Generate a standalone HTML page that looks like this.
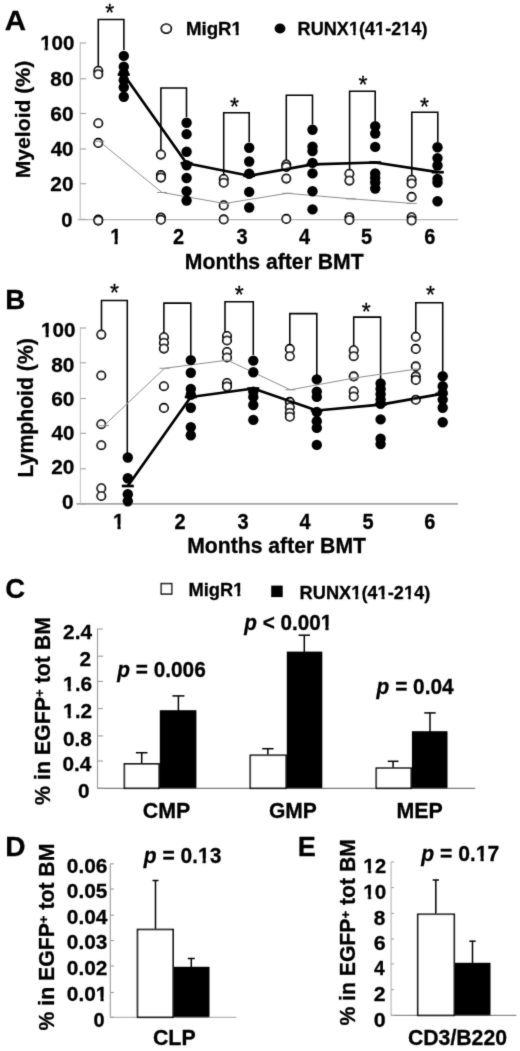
<!DOCTYPE html>
<html><head><meta charset="utf-8"><title>Figure</title>
<style>
html,body{margin:0;padding:0;background:#fff;}
svg{display:block;font-family:"Liberation Sans",sans-serif;fill:#000;}
text{stroke:#000;stroke-width:0.3px;}
</style></head><body>
<svg width="520" height="1051" viewBox="0 0 520 1051">
<defs><filter id="soft" x="0" y="0" width="520" height="1051" filterUnits="userSpaceOnUse"><feConvolveMatrix order="3" kernelMatrix="0.02 0.08 0.02 0.08 0.6 0.08 0.02 0.08 0.02" edgeMode="duplicate"/></filter></defs>
<rect x="0" y="0" width="520" height="1051" fill="#fff"/>
<g filter="url(#soft)">
<g id="panelA">
<line x1="80.2" y1="42.4" x2="80.2" y2="219.6" stroke="#c6c6c6" stroke-width="1.3"/>
<line x1="77.7" y1="219.6" x2="458" y2="219.6" stroke="#b4b4b4" stroke-width="1.2"/>
<line x1="80.2" y1="43.0" x2="86.2" y2="43.0" stroke="#a0a0a0" stroke-width="1.1"/>
<text x="40.17" y="50.1" font-size="20.9" font-weight="bold" textLength="34.33" lengthAdjust="spacingAndGlyphs">100</text>
<rect x="39.96" y="46.58" width="4.59" height="5.42" fill="#fff"/>
<rect x="48.13" y="46.58" width="3.97" height="5.42" fill="#fff"/>
<line x1="80.2" y1="78.8" x2="86.2" y2="78.8" stroke="#a0a0a0" stroke-width="1.1"/>
<text x="50.37" y="85.9" font-size="20.9" font-weight="bold" textLength="23.2" lengthAdjust="spacingAndGlyphs">80</text>
<line x1="80.2" y1="113.5" x2="86.2" y2="113.5" stroke="#a0a0a0" stroke-width="1.1"/>
<text x="50.27" y="120.6" font-size="20.9" font-weight="bold" textLength="23.32" lengthAdjust="spacingAndGlyphs">60</text>
<line x1="80.2" y1="149.0" x2="86.2" y2="149.0" stroke="#a0a0a0" stroke-width="1.1"/>
<text x="50.69" y="156.1" font-size="20.9" font-weight="bold" textLength="22.88" lengthAdjust="spacingAndGlyphs">40</text>
<line x1="80.2" y1="183.7" x2="86.2" y2="183.7" stroke="#a0a0a0" stroke-width="1.1"/>
<text x="50.37" y="190.8" font-size="20.9" font-weight="bold" textLength="23.2" lengthAdjust="spacingAndGlyphs">20</text>
<line x1="80.2" y1="219.4" x2="86.2" y2="219.4" stroke="#a0a0a0" stroke-width="1.1"/>
<text x="61.29" y="226.5" font-size="20.9" font-weight="bold" textLength="11.24" lengthAdjust="spacingAndGlyphs">0</text>
<text x="4.66" y="29.9" font-size="28" font-weight="bold" textLength="21.29" lengthAdjust="spacingAndGlyphs">A</text>
<text transform="translate(30.4,178.27) rotate(-90)" font-size="21" font-weight="bold" textLength="117.44" lengthAdjust="spacingAndGlyphs">Myeloid (%)</text>
<text x="110.16" y="243.5" font-size="21.7" font-weight="bold" textLength="11.1" lengthAdjust="spacingAndGlyphs">1</text>
<rect x="109.96" y="239.9" width="4.44" height="5.5" fill="#fff"/>
<rect x="117.9" y="239.9" width="3.84" height="5.5" fill="#fff"/>
<text x="173.11" y="243.5" font-size="21.7" font-weight="bold" textLength="11.1" lengthAdjust="spacingAndGlyphs">2</text>
<text x="236.51" y="243.5" font-size="21.7" font-weight="bold" textLength="11.1" lengthAdjust="spacingAndGlyphs">3</text>
<text x="299.01" y="243.5" font-size="21.7" font-weight="bold" textLength="11.1" lengthAdjust="spacingAndGlyphs">4</text>
<text x="361.11" y="243.5" font-size="21.7" font-weight="bold" textLength="11.1" lengthAdjust="spacingAndGlyphs">5</text>
<text x="424.26" y="243.5" font-size="21.7" font-weight="bold" textLength="11.1" lengthAdjust="spacingAndGlyphs">6</text>
<text x="184.82" y="268.8" font-size="22.4" font-weight="bold" textLength="178.86" lengthAdjust="spacingAndGlyphs">Months after BMT</text>
<ellipse cx="166.3" cy="28.6" rx="5.0" ry="4.45" fill="#fff" stroke="#000" stroke-width="1.8"/>
<text x="185.88" y="34.9" font-size="19.0" font-weight="bold" textLength="56.14" lengthAdjust="spacingAndGlyphs">MigR1</text>
<rect x="231.43" y="31.59" width="4.14" height="5.21" fill="#fff"/>
<rect x="238.89" y="31.59" width="3.58" height="5.21" fill="#fff"/>
<ellipse cx="280" cy="28.5" rx="5.4" ry="5.1" fill="#000"/>
<text x="297.62" y="35.2" font-size="19.0" font-weight="bold" textLength="129.88" lengthAdjust="spacingAndGlyphs">RUNX1(41-214)</text>
<rect x="348.77" y="31.89" width="3.99" height="5.21" fill="#fff"/>
<rect x="356.01" y="31.89" width="3.45" height="5.21" fill="#fff"/>
<rect x="374.95" y="31.89" width="3.99" height="5.21" fill="#fff"/>
<rect x="382.19" y="31.89" width="3.45" height="5.21" fill="#fff"/>
<rect x="401.14" y="31.89" width="3.99" height="5.21" fill="#fff"/>
<rect x="408.37" y="31.89" width="3.45" height="5.21" fill="#fff"/>
<polyline points="98.3,67 98.3,19.4 123.9,19.4 123.9,50" fill="none" stroke="#000" stroke-width="1.55"/>
<polyline points="160.9,150.5 160.9,87.9 186.5,87.9 186.5,117" fill="none" stroke="#000" stroke-width="1.55"/>
<polyline points="223.7,175 223.7,112.7 249.2,112.7 249.2,142" fill="none" stroke="#000" stroke-width="1.55"/>
<polyline points="286.3,161 286.3,95.2 312.5,95.2 312.5,124.5" fill="none" stroke="#000" stroke-width="1.55"/>
<polyline points="349.6,170 349.6,91.2 375.2,91.2 375.2,121" fill="none" stroke="#000" stroke-width="1.55"/>
<polyline points="411.8,177 411.8,112.2 437.8,112.2 437.8,142" fill="none" stroke="#000" stroke-width="1.55"/>
<text x="109.8" y="21.4" font-size="23" font-weight="normal" text-anchor="middle" stroke="#000" stroke-width="0.3">*</text>
<text x="234.6" y="114.5" font-size="23" font-weight="normal" text-anchor="middle" stroke="#000" stroke-width="0.3">*</text>
<text x="363" y="92.9" font-size="23" font-weight="normal" text-anchor="middle" stroke="#000" stroke-width="0.3">*</text>
<text x="424.6" y="114.5" font-size="23" font-weight="normal" text-anchor="middle" stroke="#000" stroke-width="0.3">*</text>
<circle cx="98.3" cy="70.8" r="4.15" fill="#fff" stroke="#000" stroke-width="1.8"/>
<circle cx="98.3" cy="74.2" r="4.15" fill="#fff" stroke="#000" stroke-width="1.8"/>
<circle cx="98.3" cy="123.3" r="4.15" fill="#fff" stroke="#000" stroke-width="1.8"/>
<circle cx="98.3" cy="142.9" r="4.15" fill="#fff" stroke="#000" stroke-width="1.8"/>
<circle cx="98.3" cy="219.6" r="4.15" fill="#fff" stroke="#000" stroke-width="1.8"/>
<circle cx="98.3" cy="220.6" r="4.15" fill="#fff" stroke="#000" stroke-width="1.8"/>
<circle cx="160.9" cy="154.6" r="4.15" fill="#fff" stroke="#000" stroke-width="1.8"/>
<circle cx="160.9" cy="175.0" r="4.15" fill="#fff" stroke="#000" stroke-width="1.8"/>
<circle cx="160.9" cy="177.6" r="4.15" fill="#fff" stroke="#000" stroke-width="1.8"/>
<circle cx="160.9" cy="217.6" r="4.15" fill="#fff" stroke="#000" stroke-width="1.8"/>
<circle cx="160.9" cy="219.8" r="4.15" fill="#fff" stroke="#000" stroke-width="1.8"/>
<circle cx="223.7" cy="179" r="4.15" fill="#fff" stroke="#000" stroke-width="1.8"/>
<circle cx="223.7" cy="182.8" r="4.15" fill="#fff" stroke="#000" stroke-width="1.8"/>
<circle cx="223.7" cy="205.4" r="4.15" fill="#fff" stroke="#000" stroke-width="1.8"/>
<circle cx="223.7" cy="219.4" r="4.15" fill="#fff" stroke="#000" stroke-width="1.8"/>
<circle cx="286.3" cy="164.6" r="4.15" fill="#fff" stroke="#000" stroke-width="1.8"/>
<circle cx="286.3" cy="167" r="4.15" fill="#fff" stroke="#000" stroke-width="1.8"/>
<circle cx="286.3" cy="178.6" r="4.15" fill="#fff" stroke="#000" stroke-width="1.8"/>
<circle cx="286.3" cy="218.9" r="4.15" fill="#fff" stroke="#000" stroke-width="1.8"/>
<circle cx="349.4" cy="173.8" r="4.15" fill="#fff" stroke="#000" stroke-width="1.8"/>
<circle cx="349.4" cy="180.6" r="4.15" fill="#fff" stroke="#000" stroke-width="1.8"/>
<circle cx="349.4" cy="217.2" r="4.15" fill="#fff" stroke="#000" stroke-width="1.8"/>
<circle cx="349.4" cy="220" r="4.15" fill="#fff" stroke="#000" stroke-width="1.8"/>
<circle cx="411.6" cy="179.8" r="4.15" fill="#fff" stroke="#000" stroke-width="1.8"/>
<circle cx="411.6" cy="183.5" r="4.15" fill="#fff" stroke="#000" stroke-width="1.8"/>
<circle cx="411.6" cy="196.9" r="4.15" fill="#fff" stroke="#000" stroke-width="1.8"/>
<circle cx="411.6" cy="217.2" r="4.15" fill="#fff" stroke="#000" stroke-width="1.8"/>
<circle cx="411.6" cy="220.4" r="4.15" fill="#fff" stroke="#000" stroke-width="1.8"/>
<polyline points="99.3,141.3 162,192.5 224.7,203.5 287.3,193.3 350.6,198.8 411.8,203.4" fill="none" stroke="#8c8c8c" stroke-width="1.0" stroke-linejoin="round"/>
<line x1="94.3" y1="141.3" x2="104.3" y2="141.3" stroke="#8c8c8c" stroke-width="1.0"/>
<line x1="157" y1="192.5" x2="167" y2="192.5" stroke="#8c8c8c" stroke-width="1.0"/>
<line x1="219.7" y1="203.5" x2="229.7" y2="203.5" stroke="#8c8c8c" stroke-width="1.0"/>
<line x1="282.3" y1="193.3" x2="292.3" y2="193.3" stroke="#8c8c8c" stroke-width="1.0"/>
<line x1="345.6" y1="198.8" x2="355.6" y2="198.8" stroke="#8c8c8c" stroke-width="1.0"/>
<line x1="406.8" y1="203.4" x2="416.8" y2="203.4" stroke="#8c8c8c" stroke-width="1.0"/>
<circle cx="123.8" cy="55.9" r="5.2" fill="#000"/>
<circle cx="123.8" cy="66.7" r="5.2" fill="#000"/>
<circle cx="123.8" cy="73.2" r="5.2" fill="#000"/>
<circle cx="123.8" cy="80.2" r="5.2" fill="#000"/>
<circle cx="123.8" cy="87.2" r="5.2" fill="#000"/>
<circle cx="123.8" cy="96.8" r="5.2" fill="#000"/>
<circle cx="186.6" cy="122.7" r="5.2" fill="#000"/>
<circle cx="186.6" cy="134.1" r="5.2" fill="#000"/>
<circle cx="186.6" cy="151.7" r="5.2" fill="#000"/>
<circle cx="186.6" cy="165.3" r="5.2" fill="#000"/>
<circle cx="186.6" cy="178.0" r="5.2" fill="#000"/>
<circle cx="186.6" cy="191.3" r="5.2" fill="#000"/>
<circle cx="186.6" cy="200.5" r="5.2" fill="#000"/>
<circle cx="249.2" cy="147.7" r="5.2" fill="#000"/>
<circle cx="249.2" cy="161.5" r="5.2" fill="#000"/>
<circle cx="249.2" cy="173.7" r="5.2" fill="#000"/>
<circle cx="249.2" cy="191.9" r="5.2" fill="#000"/>
<circle cx="249.2" cy="207.5" r="5.2" fill="#000"/>
<circle cx="312.5" cy="129.7" r="5.2" fill="#000"/>
<circle cx="312.5" cy="146.7" r="5.2" fill="#000"/>
<circle cx="312.5" cy="151.1" r="5.2" fill="#000"/>
<circle cx="312.5" cy="162.9" r="5.2" fill="#000"/>
<circle cx="312.5" cy="173.4" r="5.2" fill="#000"/>
<circle cx="312.5" cy="191.3" r="5.2" fill="#000"/>
<circle cx="312.5" cy="209.4" r="5.2" fill="#000"/>
<circle cx="375.2" cy="126.3" r="5.2" fill="#000"/>
<circle cx="375.2" cy="133.6" r="5.2" fill="#000"/>
<circle cx="375.2" cy="146.9" r="5.2" fill="#000"/>
<circle cx="375.2" cy="173.5" r="5.2" fill="#000"/>
<circle cx="375.2" cy="177.9" r="5.2" fill="#000"/>
<circle cx="375.2" cy="182.5" r="5.2" fill="#000"/>
<circle cx="375.2" cy="188.5" r="5.2" fill="#000"/>
<circle cx="437.5" cy="147.2" r="5.2" fill="#000"/>
<circle cx="437.5" cy="158.1" r="5.2" fill="#000"/>
<circle cx="437.5" cy="165.5" r="5.2" fill="#000"/>
<circle cx="437.5" cy="179.0" r="5.2" fill="#000"/>
<circle cx="437.5" cy="182.6" r="5.2" fill="#000"/>
<circle cx="437.5" cy="201.2" r="5.2" fill="#000"/>
<polyline points="123.7,74.5 186.5,163.2 249.2,175.8 312.5,164.3 375.2,162.5 437.8,172.2" fill="none" stroke="#000" stroke-width="2.7" stroke-linejoin="round"/>
<line x1="117.7" y1="74.5" x2="129.7" y2="74.5" stroke="#000" stroke-width="2.7"/>
<line x1="180.5" y1="163.2" x2="192.5" y2="163.2" stroke="#000" stroke-width="2.7"/>
<line x1="243.2" y1="175.8" x2="255.2" y2="175.8" stroke="#000" stroke-width="2.7"/>
<line x1="306.5" y1="164.3" x2="318.5" y2="164.3" stroke="#000" stroke-width="2.7"/>
<line x1="369.2" y1="162.5" x2="381.2" y2="162.5" stroke="#000" stroke-width="2.7"/>
<line x1="431.8" y1="172.2" x2="443.8" y2="172.2" stroke="#000" stroke-width="2.7"/>
</g>
<g id="panelB">
<line x1="80.4" y1="327" x2="80.4" y2="503.9" stroke="#c8c8c8" stroke-width="1.2"/>
<line x1="76.4" y1="503.9" x2="458" y2="503.9" stroke="#a4a4a4" stroke-width="1.6"/>
<line x1="80.4" y1="328.0" x2="86.0" y2="328.0" stroke="#a0a0a0" stroke-width="1.1"/>
<text x="41.06" y="337.3" font-size="20.9" font-weight="bold" textLength="34.43" lengthAdjust="spacingAndGlyphs">100</text>
<rect x="40.85" y="333.78" width="4.6" height="5.42" fill="#fff"/>
<rect x="49.04" y="333.78" width="3.98" height="5.42" fill="#fff"/>
<line x1="80.4" y1="362.8" x2="86.0" y2="362.8" stroke="#a0a0a0" stroke-width="1.1"/>
<text x="51.27" y="371.9" font-size="20.9" font-weight="bold" textLength="23.2" lengthAdjust="spacingAndGlyphs">80</text>
<line x1="80.4" y1="398.5" x2="86.0" y2="398.5" stroke="#a0a0a0" stroke-width="1.1"/>
<text x="51.17" y="406.0" font-size="20.9" font-weight="bold" textLength="23.32" lengthAdjust="spacingAndGlyphs">60</text>
<line x1="80.4" y1="433.3" x2="86.0" y2="433.3" stroke="#a0a0a0" stroke-width="1.1"/>
<text x="51.59" y="439.9" font-size="20.9" font-weight="bold" textLength="22.88" lengthAdjust="spacingAndGlyphs">40</text>
<line x1="80.4" y1="468.8" x2="86.0" y2="468.8" stroke="#a0a0a0" stroke-width="1.1"/>
<text x="51.27" y="473.8" font-size="20.9" font-weight="bold" textLength="23.2" lengthAdjust="spacingAndGlyphs">20</text>
<line x1="80.4" y1="503.9" x2="86.0" y2="503.9" stroke="#a0a0a0" stroke-width="1.1"/>
<text x="61.97" y="508.5" font-size="20.9" font-weight="bold" textLength="11.58" lengthAdjust="spacingAndGlyphs">0</text>
<text x="5.19" y="308.6" font-size="28" font-weight="bold" textLength="20.08" lengthAdjust="spacingAndGlyphs">B</text>
<text transform="translate(32.5,477.58) rotate(-90)" font-size="21.5" font-weight="bold" textLength="139.4" lengthAdjust="spacingAndGlyphs">Lymphoid (%)</text>
<text x="113.06" y="528.5" font-size="21.7" font-weight="bold" textLength="11.1" lengthAdjust="spacingAndGlyphs">1</text>
<rect x="112.86" y="524.9" width="4.44" height="5.5" fill="#fff"/>
<rect x="120.8" y="524.9" width="3.84" height="5.5" fill="#fff"/>
<text x="174.61" y="528.5" font-size="21.7" font-weight="bold" textLength="11.1" lengthAdjust="spacingAndGlyphs">2</text>
<text x="237.61" y="528.5" font-size="21.7" font-weight="bold" textLength="11.1" lengthAdjust="spacingAndGlyphs">3</text>
<text x="299.61" y="528.5" font-size="21.7" font-weight="bold" textLength="11.1" lengthAdjust="spacingAndGlyphs">4</text>
<text x="362.61" y="528.5" font-size="21.7" font-weight="bold" textLength="11.1" lengthAdjust="spacingAndGlyphs">5</text>
<text x="424.26" y="528.5" font-size="21.7" font-weight="bold" textLength="11.1" lengthAdjust="spacingAndGlyphs">6</text>
<text x="187.22" y="553.0" font-size="22.4" font-weight="bold" textLength="178.76" lengthAdjust="spacingAndGlyphs">Months after BMT</text>
<polyline points="101.5,330 101.5,300.4 127.3,300.4 127.3,454" fill="none" stroke="#000" stroke-width="1.55"/>
<polyline points="163.9,333.5 163.9,303.1 190.8,303.1 190.8,355" fill="none" stroke="#000" stroke-width="1.55"/>
<polyline points="225,332 225,301.8 253.3,301.8 253.3,355" fill="none" stroke="#000" stroke-width="1.55"/>
<polyline points="289.8,344.5 289.8,313.6 316.8,313.6 316.8,375" fill="none" stroke="#000" stroke-width="1.55"/>
<polyline points="353.7,346.5 353.7,317.1 380.6,317.1 380.6,379" fill="none" stroke="#000" stroke-width="1.55"/>
<polyline points="415.8,332.5 415.8,302.8 442.7,302.8 442.7,371" fill="none" stroke="#000" stroke-width="1.55"/>
<text x="114.4" y="300.9" font-size="23" font-weight="normal" text-anchor="middle" stroke="#000" stroke-width="0.3">*</text>
<text x="239.3" y="302.7" font-size="23" font-weight="normal" text-anchor="middle" stroke="#000" stroke-width="0.3">*</text>
<text x="366.3" y="319.7" font-size="23" font-weight="normal" text-anchor="middle" stroke="#000" stroke-width="0.3">*</text>
<text x="430.6" y="302.7" font-size="23" font-weight="normal" text-anchor="middle" stroke="#000" stroke-width="0.3">*</text>
<circle cx="101.3" cy="334.6" r="4.15" fill="#fff" stroke="#000" stroke-width="1.8"/>
<circle cx="101.3" cy="375.5" r="4.15" fill="#fff" stroke="#000" stroke-width="1.8"/>
<circle cx="101.3" cy="424.2" r="4.15" fill="#fff" stroke="#000" stroke-width="1.8"/>
<circle cx="101.3" cy="445.2" r="4.15" fill="#fff" stroke="#000" stroke-width="1.8"/>
<circle cx="101.3" cy="488.3" r="4.15" fill="#fff" stroke="#000" stroke-width="1.8"/>
<circle cx="101.3" cy="496.0" r="4.15" fill="#fff" stroke="#000" stroke-width="1.8"/>
<circle cx="163.9" cy="337.3" r="4.15" fill="#fff" stroke="#000" stroke-width="1.8"/>
<circle cx="163.9" cy="342.7" r="4.15" fill="#fff" stroke="#000" stroke-width="1.8"/>
<circle cx="163.9" cy="348.6" r="4.15" fill="#fff" stroke="#000" stroke-width="1.8"/>
<circle cx="163.9" cy="386.3" r="4.15" fill="#fff" stroke="#000" stroke-width="1.8"/>
<circle cx="163.9" cy="407.9" r="4.15" fill="#fff" stroke="#000" stroke-width="1.8"/>
<circle cx="227.0" cy="336" r="4.15" fill="#fff" stroke="#000" stroke-width="1.8"/>
<circle cx="227.0" cy="340.5" r="4.15" fill="#fff" stroke="#000" stroke-width="1.8"/>
<circle cx="227.0" cy="352.1" r="4.15" fill="#fff" stroke="#000" stroke-width="1.8"/>
<circle cx="227.0" cy="357.5" r="4.15" fill="#fff" stroke="#000" stroke-width="1.8"/>
<circle cx="227.0" cy="383.1" r="4.15" fill="#fff" stroke="#000" stroke-width="1.8"/>
<circle cx="227.0" cy="386.6" r="4.15" fill="#fff" stroke="#000" stroke-width="1.8"/>
<circle cx="289.8" cy="348.9" r="4.15" fill="#fff" stroke="#000" stroke-width="1.8"/>
<circle cx="289.8" cy="356.2" r="4.15" fill="#fff" stroke="#000" stroke-width="1.8"/>
<circle cx="289.8" cy="401.9" r="4.15" fill="#fff" stroke="#000" stroke-width="1.8"/>
<circle cx="289.8" cy="407.3" r="4.15" fill="#fff" stroke="#000" stroke-width="1.8"/>
<circle cx="289.8" cy="412.7" r="4.15" fill="#fff" stroke="#000" stroke-width="1.8"/>
<circle cx="289.8" cy="416.7" r="4.15" fill="#fff" stroke="#000" stroke-width="1.8"/>
<circle cx="353.7" cy="350.2" r="4.15" fill="#fff" stroke="#000" stroke-width="1.8"/>
<circle cx="353.7" cy="356.2" r="4.15" fill="#fff" stroke="#000" stroke-width="1.8"/>
<circle cx="353.7" cy="376.4" r="4.15" fill="#fff" stroke="#000" stroke-width="1.8"/>
<circle cx="353.7" cy="391.2" r="4.15" fill="#fff" stroke="#000" stroke-width="1.8"/>
<circle cx="353.7" cy="396.5" r="4.15" fill="#fff" stroke="#000" stroke-width="1.8"/>
<circle cx="415.8" cy="336.8" r="4.15" fill="#fff" stroke="#000" stroke-width="1.8"/>
<circle cx="415.8" cy="348.9" r="4.15" fill="#fff" stroke="#000" stroke-width="1.8"/>
<circle cx="415.8" cy="366.4" r="4.15" fill="#fff" stroke="#000" stroke-width="1.8"/>
<circle cx="415.8" cy="376.4" r="4.15" fill="#fff" stroke="#000" stroke-width="1.8"/>
<circle cx="415.8" cy="379.9" r="4.15" fill="#fff" stroke="#000" stroke-width="1.8"/>
<circle cx="415.8" cy="399.8" r="4.15" fill="#fff" stroke="#000" stroke-width="1.8"/>
<polyline points="104,425.6 164.5,368.3 227.4,360.2 290.4,389.8 354.2,378 416.3,369.1" fill="none" stroke="#8c8c8c" stroke-width="1.0" stroke-linejoin="round"/>
<line x1="99" y1="425.6" x2="109" y2="425.6" stroke="#8c8c8c" stroke-width="1.0"/>
<line x1="159.5" y1="368.3" x2="169.5" y2="368.3" stroke="#8c8c8c" stroke-width="1.0"/>
<line x1="222.4" y1="360.2" x2="232.4" y2="360.2" stroke="#8c8c8c" stroke-width="1.0"/>
<line x1="285.4" y1="389.8" x2="295.4" y2="389.8" stroke="#8c8c8c" stroke-width="1.0"/>
<line x1="349.2" y1="378" x2="359.2" y2="378" stroke="#8c8c8c" stroke-width="1.0"/>
<line x1="411.3" y1="369.1" x2="421.3" y2="369.1" stroke="#8c8c8c" stroke-width="1.0"/>
<circle cx="127.8" cy="457.5" r="5.2" fill="#000"/>
<circle cx="127.8" cy="478.2" r="5.2" fill="#000"/>
<circle cx="127.8" cy="494.2" r="5.2" fill="#000"/>
<circle cx="127.8" cy="501.2" r="5.2" fill="#000"/>
<circle cx="190.8" cy="360.1" r="5.2" fill="#000"/>
<circle cx="190.8" cy="372.7" r="5.2" fill="#000"/>
<circle cx="190.8" cy="388.9" r="5.2" fill="#000"/>
<circle cx="190.8" cy="394.8" r="5.2" fill="#000"/>
<circle cx="190.8" cy="407.7" r="5.2" fill="#000"/>
<circle cx="190.8" cy="427.1" r="5.2" fill="#000"/>
<circle cx="190.8" cy="435.2" r="5.2" fill="#000"/>
<circle cx="253.3" cy="360.6" r="5.2" fill="#000"/>
<circle cx="253.3" cy="372.2" r="5.2" fill="#000"/>
<circle cx="253.3" cy="391.6" r="5.2" fill="#000"/>
<circle cx="253.3" cy="396.9" r="5.2" fill="#000"/>
<circle cx="253.3" cy="405.0" r="5.2" fill="#000"/>
<circle cx="253.3" cy="419.9" r="5.2" fill="#000"/>
<circle cx="316.8" cy="379.4" r="5.2" fill="#000"/>
<circle cx="316.8" cy="391.6" r="5.2" fill="#000"/>
<circle cx="316.8" cy="396.9" r="5.2" fill="#000"/>
<circle cx="316.8" cy="412.0" r="5.2" fill="#000"/>
<circle cx="316.8" cy="421.2" r="5.2" fill="#000"/>
<circle cx="316.8" cy="427.9" r="5.2" fill="#000"/>
<circle cx="316.8" cy="444.9" r="5.2" fill="#000"/>
<circle cx="380.6" cy="383.5" r="5.2" fill="#000"/>
<circle cx="380.6" cy="388.9" r="5.2" fill="#000"/>
<circle cx="380.6" cy="394.3" r="5.2" fill="#000"/>
<circle cx="380.6" cy="399.6" r="5.2" fill="#000"/>
<circle cx="380.6" cy="403.7" r="5.2" fill="#000"/>
<circle cx="380.6" cy="419.4" r="5.2" fill="#000"/>
<circle cx="380.6" cy="438.7" r="5.2" fill="#000"/>
<circle cx="380.6" cy="444.1" r="5.2" fill="#000"/>
<circle cx="442.7" cy="376.2" r="5.2" fill="#000"/>
<circle cx="442.7" cy="386.2" r="5.2" fill="#000"/>
<circle cx="442.7" cy="392.9" r="5.2" fill="#000"/>
<circle cx="442.7" cy="399.6" r="5.2" fill="#000"/>
<circle cx="442.7" cy="407.7" r="5.2" fill="#000"/>
<circle cx="442.7" cy="422.2" r="5.2" fill="#000"/>
<polyline points="127.8,486 190.8,397 253.3,388.5 316.8,410.5 380.6,404.6 441.5,393.9" fill="none" stroke="#000" stroke-width="2.7" stroke-linejoin="round"/>
<line x1="121.8" y1="486" x2="133.8" y2="486" stroke="#000" stroke-width="2.7"/>
<line x1="184.8" y1="397" x2="196.8" y2="397" stroke="#000" stroke-width="2.7"/>
<line x1="247.3" y1="388.5" x2="259.3" y2="388.5" stroke="#000" stroke-width="2.7"/>
<line x1="310.8" y1="410.5" x2="322.8" y2="410.5" stroke="#000" stroke-width="2.7"/>
<line x1="374.6" y1="404.6" x2="386.6" y2="404.6" stroke="#000" stroke-width="2.7"/>
<line x1="435.5" y1="393.9" x2="447.5" y2="393.9" stroke="#000" stroke-width="2.7"/>
</g>
<g id="panelC">
<line x1="97.5" y1="628.5" x2="97.5" y2="788.3" stroke="#9a9a9a" stroke-width="1.1"/>
<line x1="97.5" y1="788.3" x2="475.2" y2="788.3" stroke="#7c7c7c" stroke-width="1.2"/>
<line x1="97.5" y1="629.0" x2="103.0" y2="629.0" stroke="#9a9a9a" stroke-width="1.1"/>
<text x="63.09" y="638.8" font-size="21" font-weight="bold" textLength="28.92" lengthAdjust="spacingAndGlyphs">2.4</text>
<line x1="97.5" y1="656.2" x2="103.0" y2="656.2" stroke="#9a9a9a" stroke-width="1.1"/>
<text x="79.39" y="666.0" font-size="21" font-weight="bold" textLength="11.57" lengthAdjust="spacingAndGlyphs">2</text>
<line x1="97.5" y1="681.4" x2="103.0" y2="681.4" stroke="#9a9a9a" stroke-width="1.1"/>
<text x="63.11" y="691.2" font-size="21" font-weight="bold" textLength="28.92" lengthAdjust="spacingAndGlyphs">1.6</text>
<rect x="62.9" y="687.67" width="4.64" height="5.43" fill="#fff"/>
<rect x="71.16" y="687.67" width="4.02" height="5.43" fill="#fff"/>
<line x1="97.5" y1="708.6" x2="103.0" y2="708.6" stroke="#9a9a9a" stroke-width="1.1"/>
<text x="63.11" y="718.4" font-size="21" font-weight="bold" textLength="28.92" lengthAdjust="spacingAndGlyphs">1.2</text>
<rect x="62.9" y="714.87" width="4.64" height="5.43" fill="#fff"/>
<rect x="71.16" y="714.87" width="4.02" height="5.43" fill="#fff"/>
<line x1="97.5" y1="735.9" x2="103.0" y2="735.9" stroke="#9a9a9a" stroke-width="1.1"/>
<text x="62.91" y="745.7" font-size="21" font-weight="bold" textLength="28.91" lengthAdjust="spacingAndGlyphs">0.8</text>
<line x1="97.5" y1="761.0" x2="103.0" y2="761.0" stroke="#9a9a9a" stroke-width="1.1"/>
<text x="62.39" y="770.8" font-size="21" font-weight="bold" textLength="28.91" lengthAdjust="spacingAndGlyphs">0.4</text>
<line x1="97.5" y1="788.2" x2="103.0" y2="788.2" stroke="#9a9a9a" stroke-width="1.1"/>
<text x="77.98" y="798.0" font-size="21" font-weight="bold" textLength="11.57" lengthAdjust="spacingAndGlyphs">0</text>
<text x="5.3" y="598.4" font-size="28" font-weight="bold" textLength="19.85" lengthAdjust="spacingAndGlyphs">C</text>
<text transform="translate(49.7,804.93) rotate(-90)" font-size="21.3" font-weight="bold" textLength="187.97" lengthAdjust="spacingAndGlyphs">% in EGFP<tspan font-size="13.21" dy="-5.75">+</tspan><tspan dy="5.75"> tot BM</tspan></text>
<rect x="161.3" y="583.6" width="10.4" height="10.4" fill="#fff" stroke="#000" stroke-width="1.5"/>
<text x="188.51" y="595.7" font-size="18.6" font-weight="bold" textLength="54.94" lengthAdjust="spacingAndGlyphs">MigR1</text>
<rect x="233.08" y="592.43" width="4.04" height="5.17" fill="#fff"/>
<rect x="240.39" y="592.43" width="3.49" height="5.17" fill="#fff"/>
<rect x="271.2" y="585.6" width="11.5" height="11.5" fill="#000"/>
<text x="299.62" y="598.8" font-size="18.6" font-weight="bold" textLength="130.69" lengthAdjust="spacingAndGlyphs">RUNX1(41-214)</text>
<rect x="351.09" y="595.53" width="4.02" height="5.17" fill="#fff"/>
<rect x="358.37" y="595.53" width="3.47" height="5.17" fill="#fff"/>
<rect x="377.43" y="595.53" width="4.02" height="5.17" fill="#fff"/>
<rect x="384.72" y="595.53" width="3.47" height="5.17" fill="#fff"/>
<rect x="403.78" y="595.53" width="4.02" height="5.17" fill="#fff"/>
<rect x="411.06" y="595.53" width="3.47" height="5.17" fill="#fff"/>
<rect x="124.4" y="763.9" width="34.7" height="24.4" fill="#fff" stroke="#000" stroke-width="1.6"/>
<line x1="141.7" y1="752.7" x2="141.7" y2="763.2" stroke="#000" stroke-width="1.5"/>
<line x1="135.9" y1="752.7" x2="147.5" y2="752.7" stroke="#000" stroke-width="1.5"/>
<rect x="159.8" y="710.2" width="36.6" height="78.1" fill="#000"/>
<line x1="178.4" y1="695.9" x2="178.4" y2="711" stroke="#000" stroke-width="1.5"/>
<line x1="172.4" y1="695.9" x2="184.4" y2="695.9" stroke="#000" stroke-width="1.5"/>
<rect x="250.3" y="755.3" width="35.8" height="33.0" fill="#fff" stroke="#000" stroke-width="1.6"/>
<line x1="267.9" y1="748.7" x2="267.9" y2="754.6" stroke="#000" stroke-width="1.5"/>
<line x1="262.2" y1="748.7" x2="273.6" y2="748.7" stroke="#000" stroke-width="1.5"/>
<rect x="286.8" y="651.6" width="35.5" height="136.7" fill="#000"/>
<line x1="304.3" y1="635.2" x2="304.3" y2="652" stroke="#000" stroke-width="1.5"/>
<line x1="298.6" y1="635.2" x2="310.0" y2="635.2" stroke="#000" stroke-width="1.5"/>
<rect x="376.3" y="768.2" width="34.9" height="20.1" fill="#fff" stroke="#000" stroke-width="1.6"/>
<line x1="393.1" y1="761.3" x2="393.1" y2="767.5" stroke="#000" stroke-width="1.5"/>
<line x1="387.7" y1="761.3" x2="398.5" y2="761.3" stroke="#000" stroke-width="1.5"/>
<rect x="411.9" y="731.2" width="35.6" height="57.1" fill="#000"/>
<line x1="430" y1="712.9" x2="430" y2="732" stroke="#000" stroke-width="1.5"/>
<line x1="424.3" y1="712.9" x2="435.7" y2="712.9" stroke="#000" stroke-width="1.5"/>
<text x="117.22" y="677.1" font-size="21.8" font-weight="bold" textLength="88.55" lengthAdjust="spacingAndGlyphs"><tspan font-style="italic">p</tspan> = 0.006</text>
<text x="244.22" y="629.9" font-size="21.8" font-weight="bold" textLength="88.04" lengthAdjust="spacingAndGlyphs"><tspan font-style="italic">p</tspan> &lt; 0.001</text>
<rect x="320.54" y="626.29" width="4.62" height="5.51" fill="#fff"/>
<rect x="328.75" y="626.29" width="4.0" height="5.51" fill="#fff"/>
<text x="376.62" y="694.0" font-size="21.8" font-weight="bold" textLength="77.1" lengthAdjust="spacingAndGlyphs"><tspan font-style="italic">p</tspan> = 0.04</text>
<text x="142.85" y="818.0" font-size="21.7" font-weight="bold" textLength="47.44" lengthAdjust="spacingAndGlyphs">CMP</text>
<text x="268.96" y="818.0" font-size="21.7" font-weight="bold" textLength="47.93" lengthAdjust="spacingAndGlyphs">GMP</text>
<text x="396.51" y="818.0" font-size="21.7" font-weight="bold" textLength="46.38" lengthAdjust="spacingAndGlyphs">MEP</text>
</g>
<g id="panelD">
<line x1="110.3" y1="864" x2="110.3" y2="1017.3" stroke="#9a9a9a" stroke-width="1.1"/>
<line x1="110.3" y1="1017.3" x2="236.3" y2="1017.3" stroke="#b4b4b4" stroke-width="1.2"/>
<line x1="110.3" y1="1017.3" x2="113.89999999999999" y2="1017.3" stroke="#9a9a9a" stroke-width="1.1"/>
<text x="93.4" y="1026.8" font-size="20.9" font-weight="bold" textLength="11.12" lengthAdjust="spacingAndGlyphs">0</text>
<line x1="110.3" y1="992.5" x2="113.89999999999999" y2="992.5" stroke="#9a9a9a" stroke-width="1.1"/>
<text x="66.87" y="1001.2" font-size="20.9" font-weight="bold" textLength="40.59" lengthAdjust="spacingAndGlyphs">0.01</text>
<rect x="95.65" y="997.68" width="4.66" height="5.42" fill="#fff"/>
<rect x="103.93" y="997.68" width="4.03" height="5.42" fill="#fff"/>
<line x1="110.3" y1="966.0" x2="113.89999999999999" y2="966.0" stroke="#9a9a9a" stroke-width="1.1"/>
<text x="66.87" y="974.7" font-size="20.9" font-weight="bold" textLength="40.59" lengthAdjust="spacingAndGlyphs">0.02</text>
<line x1="110.3" y1="940.5" x2="113.89999999999999" y2="940.5" stroke="#9a9a9a" stroke-width="1.1"/>
<text x="66.87" y="949.2" font-size="20.9" font-weight="bold" textLength="40.59" lengthAdjust="spacingAndGlyphs">0.03</text>
<line x1="110.3" y1="915.2" x2="113.89999999999999" y2="915.2" stroke="#9a9a9a" stroke-width="1.1"/>
<text x="66.87" y="923.9" font-size="20.9" font-weight="bold" textLength="40.59" lengthAdjust="spacingAndGlyphs">0.04</text>
<line x1="110.3" y1="889.0" x2="113.89999999999999" y2="889.0" stroke="#9a9a9a" stroke-width="1.1"/>
<text x="66.87" y="897.7" font-size="20.9" font-weight="bold" textLength="40.59" lengthAdjust="spacingAndGlyphs">0.05</text>
<line x1="110.3" y1="863.8" x2="113.89999999999999" y2="863.8" stroke="#9a9a9a" stroke-width="1.1"/>
<text x="66.87" y="872.5" font-size="20.9" font-weight="bold" textLength="40.59" lengthAdjust="spacingAndGlyphs">0.06</text>
<text x="5.18" y="856.1" font-size="28" font-weight="bold" textLength="20.27" lengthAdjust="spacingAndGlyphs">D</text>
<text transform="translate(53.7,1030.42) rotate(-90)" font-size="21.5" font-weight="bold" textLength="186.76" lengthAdjust="spacingAndGlyphs">% in EGFP<tspan font-size="13.33" dy="-5.81">+</tspan><tspan dy="5.81"> tot BM</tspan></text>
<text x="143.72" y="863.0" font-size="21.8" font-weight="bold" textLength="77.63" lengthAdjust="spacingAndGlyphs"><tspan font-style="italic">p</tspan> = 0.13</text>
<rect x="197.78" y="859.39" width="4.69" height="5.51" fill="#fff"/>
<rect x="206.11" y="859.39" width="4.06" height="5.51" fill="#fff"/>
<rect x="137.5" y="929.5" width="35.6" height="87.8" fill="#fff" stroke="#000" stroke-width="1.6"/>
<line x1="155.5" y1="880.5" x2="155.5" y2="928.8" stroke="#000" stroke-width="1.5"/>
<line x1="152.5" y1="880.5" x2="158.5" y2="880.5" stroke="#000" stroke-width="1.5"/>
<rect x="173.8" y="966.8" width="35.7" height="50.5" fill="#000"/>
<line x1="191.3" y1="958.5" x2="191.3" y2="967.5" stroke="#000" stroke-width="1.5"/>
<line x1="187.8" y1="958.5" x2="194.8" y2="958.5" stroke="#000" stroke-width="1.5"/>
<text x="152.95" y="1045.2" font-size="21.7" font-weight="bold" textLength="42.7" lengthAdjust="spacingAndGlyphs">CLP</text>
</g>
<g id="panelE">
<line x1="391.1" y1="862" x2="391.1" y2="1015.4" stroke="#b4b4b4" stroke-width="1.1"/>
<line x1="391.1" y1="1015.4" x2="516.3" y2="1015.4" stroke="#8a8a8a" stroke-width="1.2"/>
<line x1="391.1" y1="1015.5" x2="394.1" y2="1015.5" stroke="#a8a8a8" stroke-width="1.1"/>
<text x="373.65" y="1026.85" font-size="20.5" font-weight="bold" textLength="11.93" lengthAdjust="spacingAndGlyphs">0</text>
<line x1="391.1" y1="989.6" x2="394.1" y2="989.6" stroke="#a8a8a8" stroke-width="1.1"/>
<text x="373.76" y="1000.95" font-size="20.5" font-weight="bold" textLength="11.8" lengthAdjust="spacingAndGlyphs">2</text>
<line x1="391.1" y1="963.9" x2="394.1" y2="963.9" stroke="#a8a8a8" stroke-width="1.1"/>
<text x="374.11" y="975.25" font-size="20.5" font-weight="bold" textLength="10.71" lengthAdjust="spacingAndGlyphs">4</text>
<line x1="391.1" y1="939.0" x2="394.1" y2="939.0" stroke="#a8a8a8" stroke-width="1.1"/>
<text x="373.65" y="950.35" font-size="20.5" font-weight="bold" textLength="11.93" lengthAdjust="spacingAndGlyphs">6</text>
<line x1="391.1" y1="913.4" x2="394.1" y2="913.4" stroke="#a8a8a8" stroke-width="1.1"/>
<text x="373.78" y="924.75" font-size="20.5" font-weight="bold" textLength="11.57" lengthAdjust="spacingAndGlyphs">8</text>
<line x1="391.1" y1="887.5" x2="394.1" y2="887.5" stroke="#a8a8a8" stroke-width="1.1"/>
<text x="363.36" y="898.85" font-size="20.5" font-weight="bold" textLength="22.9" lengthAdjust="spacingAndGlyphs">10</text>
<rect x="363.15" y="895.38" width="4.59" height="5.37" fill="#fff"/>
<rect x="371.33" y="895.38" width="3.97" height="5.37" fill="#fff"/>
<line x1="391.1" y1="861.9" x2="394.1" y2="861.9" stroke="#a8a8a8" stroke-width="1.1"/>
<text x="363.36" y="873.25" font-size="20.5" font-weight="bold" textLength="22.9" lengthAdjust="spacingAndGlyphs">12</text>
<rect x="363.15" y="869.78" width="4.59" height="5.37" fill="#fff"/>
<rect x="371.33" y="869.78" width="3.97" height="5.37" fill="#fff"/>
<text x="297.64" y="855.7" font-size="28" font-weight="bold" textLength="18.06" lengthAdjust="spacingAndGlyphs">E</text>
<text transform="translate(355.3,1025.62) rotate(-90)" font-size="21.5" font-weight="bold" textLength="186.45" lengthAdjust="spacingAndGlyphs">% in EGFP<tspan font-size="13.33" dy="-5.81">+</tspan><tspan dy="5.81"> tot BM</tspan></text>
<text x="421.23" y="861.1" font-size="21.8" font-weight="bold" textLength="78.14" lengthAdjust="spacingAndGlyphs"><tspan font-style="italic">p</tspan> = 0.17</text>
<rect x="475.65" y="857.49" width="4.73" height="5.51" fill="#fff"/>
<rect x="484.03" y="857.49" width="4.09" height="5.51" fill="#fff"/>
<rect x="417.7" y="914.3" width="36.6" height="101.1" fill="#fff" stroke="#000" stroke-width="1.6"/>
<line x1="435.8" y1="880" x2="435.8" y2="913.6" stroke="#000" stroke-width="1.5"/>
<line x1="432.65" y1="880" x2="438.95" y2="880" stroke="#000" stroke-width="1.5"/>
<rect x="455" y="962.8" width="35.5" height="52.6" fill="#000"/>
<line x1="472.5" y1="941.2" x2="472.5" y2="963.5" stroke="#000" stroke-width="1.5"/>
<line x1="469.35" y1="941.2" x2="475.65" y2="941.2" stroke="#000" stroke-width="1.5"/>
<text x="407.95" y="1045.2" font-size="21.7" font-weight="bold" textLength="99.07" lengthAdjust="spacingAndGlyphs">CD3/B220</text>
</g>
</g></svg></body></html>
